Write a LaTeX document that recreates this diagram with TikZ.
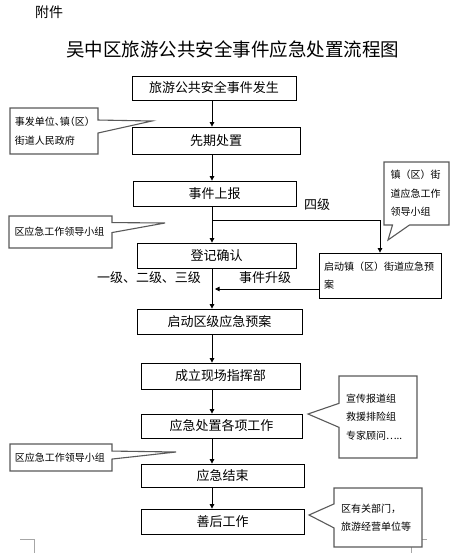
\documentclass[tikz,border=0pt]{standalone}
\usepackage{fontspec}
\setmainfont{Noto Sans CJK SC}
\newfontfamily\halffont[RawFeature=+halt]{Noto Sans CJK SC}
\usetikzlibrary{arrows.meta,shapes.callouts}

\begin{document}
\begin{tikzpicture}[
		x=1pt, y=-1pt,
		box/.style={rectangle, draw, line width=0.8pt, inner sep=0pt, font=\fontsize{13}{15}\selectfont},
		note/.style={rectangle callout, draw=black!65, line width=1.1pt, fill=white, inner sep=0pt, align=left, font=\fontsize{10}{18.5}\selectfont},
		arr/.style={-{Triangle[length=4.5pt,width=4.5pt]}, line width=0.8pt},
		lbl/.style={inner sep=0pt, font=\fontsize{13}{15}\selectfont},
		crop/.style={black!35, line width=0.8pt}
	]
  \useasboundingbox (0,0) rectangle (464,558);
  \coordinate (spine) at (212,0);
  \node (fujian) [lbl, font=\fontsize{14}{16}\selectfont] at (49,12) {附件};
  \node (title) [lbl, font=\fontsize{18.5}{20}\selectfont] at (233,49) {吴中区旅游公共安全事件应急处置流程图};
  % main column
  \node (fasheng) [box, minimum width=164pt, minimum height=24pt] at (214,88) {旅游公共安全事件发生};
  \node (xianqi) [box, minimum width=168pt, minimum height=27pt] at (216,140.5) {先期处置};
  \node (shangbao) [box, minimum width=163pt, minimum height=25pt] at (214.5,193.5) {事件上报};
  \node (dengji) [box, minimum width=159pt, minimum height=25pt] at (216.5,255.5) {登记确认};
  \node (quji) [box, minimum width=165pt, minimum height=25pt] at (219.5,321.5) {启动区级应急预案};
  \node (zhihui) [box, minimum width=159pt, minimum height=26pt] at (220.5,376) {成立现场指挥部};
  \node (chuzhi) [box, minimum width=161pt, minimum height=24pt] at (221.5,426) {应急处置各项工作};
  \node (jieshu) [box, minimum width=163pt, minimum height=23pt] at (222.5,475.5) {应急结束};
  \node (shanhou) [box, minimum width=163pt, minimum height=25pt] at (222.5,521.5) {善后工作};
  \node (zhenji) [box, font=\fontsize{10}{18}\selectfont, align=left, text width=112pt, minimum width=122pt, minimum height=45pt] at (380,275.5) {启动镇（区）街道应急预\\案};
  % level labels
  \node (siji) [lbl] at (317,205) {四级};
  \node (sanji) [lbl] at (149,278) {一级、二级、三级};
  \node (shengji) [lbl] at (265,278) {事件升级};
  % connectors
  \coordinate (fork) at (212,220);
  \coordinate (join) at (212,289);
  \draw[arr] (fasheng.south -| spine) -- (xianqi.north -| spine);
  \draw[arr] (xianqi.south -| spine) -- (shangbao.north -| spine);
  \draw[arr] (shangbao.south -| spine) -- (dengji.north -| spine);
  \draw[arr] (fork) -| (zhenji.north);
  \draw[arr] (dengji.south -| spine) -- (quji.north -| spine);
  \draw[arr, shorten >=3pt] (zhenji.west |- join) -- (join);
  \draw[arr] (quji.south -| spine) -- (zhihui.north -| spine);
  \draw[arr] (zhihui.south -| spine) -- (chuzhi.north -| spine);
  \draw[arr] (chuzhi.south -| spine) -- (jieshu.north -| spine);
  \draw[arr] (jieshu.south -| spine) -- (shanhou.north -| spine);
  % page corners
  \draw[crop] (20,539) -- (34,539) -- (34,553);
  \draw[crop] (427,539) -- (411,539) -- (411,553);
  % side notes
  \node (shifa) [note, text width=78pt, minimum width=88pt, minimum height=46pt, callout pointer width=13pt, callout absolute pointer={(152,121)}] at (54,131) {\halffont 事发单位、镇（区）\\街道人民政府};
  \node (lingdao_a) [note, text width=92pt, minimum width=103pt, minimum height=32pt, callout pointer width=10pt, callout absolute pointer={(165,223)}] at (60.5,232) {区应急工作领导小组};
  \node (zhenlingdao) [note, text width=52pt, minimum width=65pt, minimum height=63pt, callout pointer width=17pt, callout absolute pointer={(388,240)}] at (416.5,193.5) {镇（区）街\\道应急工作\\领导小组};
  \node (zubie) [note, text width=64pt, minimum width=78pt, minimum height=82pt, callout pointer width=24pt, callout absolute pointer={(308,414)}] at (378,417) {宣传报道组\\救援排险组\\专家顾问…..};
  \node (lingdao_b) [note, text width=92pt, minimum width=102pt, minimum height=27pt, callout pointer width=8pt, callout absolute pointer={(176,452)}] at (61,457.5) {区应急工作领导小组};
  \node (bumen) [note, text width=74pt, minimum width=88pt, minimum height=59pt, callout pointer width=24pt, callout absolute pointer={(309,515)}] at (378,517.5) {区有关部门，\\旅游经营单位等};
\end{tikzpicture}
\end{document}
